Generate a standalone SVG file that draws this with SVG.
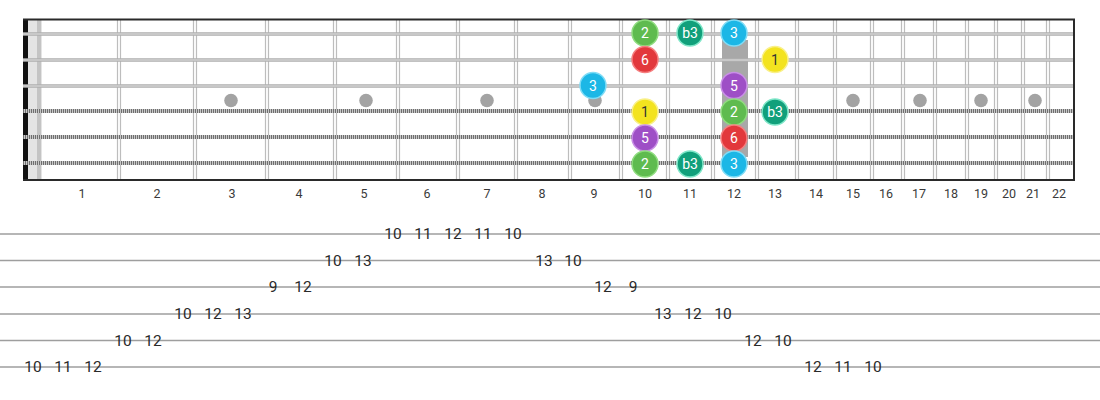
<svg xmlns="http://www.w3.org/2000/svg" width="1100" height="400" viewBox="0 0 1100 400">
<style>
.fret{stroke:#bdbdbd;stroke-width:1.2;fill:none}
.plain{stroke:#aeaeae;stroke-width:3.4;fill:none}
.plainc{stroke:#e2e2e2;stroke-width:1;fill:none}
.woundb{stroke:#c8c8c8;stroke-width:4;fill:none}
.wound{stroke:#6e6e6e;stroke-width:4;stroke-dasharray:1 1;fill:none}
.dot{fill:#a3a3a3}
.fn{font-family:Roboto,"Liberation Sans",sans-serif;font-size:12.5px;fill:#3a3a3a;text-anchor:middle}
.tl{stroke:#9e9e9e;stroke-width:1.5}
.tn{font-family:Roboto,"Liberation Sans",sans-serif;font-size:15.5px;fill:#2a2a2a;text-anchor:middle;dominant-baseline:central}
.nt{font-family:Roboto,"Liberation Sans",sans-serif;font-size:14px;fill:#fff;text-anchor:middle;dominant-baseline:central}
.dk{fill:#333}
.c2{fill:#5fbb4f;stroke:#8fdc7f;stroke-width:1.5}
.cb3{fill:#11a07b;stroke:#7fe6c8;stroke-width:1.5}
.c3{fill:#1cb7e6;stroke:#7fdcf6;stroke-width:1.5}
.c6{fill:#e2383c;stroke:#f57f80;stroke-width:1.5}
.c1{fill:#f3e31f;stroke:#f9f08a;stroke-width:1.5}
.c5{fill:#9e4fc6;stroke:#c98fe6;stroke-width:1.5}
</style>
<rect width="1100" height="400" fill="#fff"/>
<g id="fretboard">
  <rect x="28" y="20" width="14" height="160" fill="#e4e4e4"/>
  <rect x="37" y="20" width="4" height="160" fill="#c4c4c4"/>
  <g id="frets">
    <path class="fret" d="M117.5 20V180M120.5 20V180M193.5 20V180M196.5 20V180M265.5 20V180M268.5 20V180M333.5 20V180M336.5 20V180M396.5 20V180M399.5 20V180M456.5 20V180M459.5 20V180M514.5 20V180M517.5 20V180M568.5 20V180M571.5 20V180M619.5 20V180M622.5 20V180M666.5 20V180M669.5 20V180M711.5 20V180M714.5 20V180M755.5 20V180M758.5 20V180M795.5 20V180M798.5 20V180M833.5 20V180M836.5 20V180M870.5 20V180M873.5 20V180M901.5 20V180M904.5 20V180M933.5 20V180M936.5 20V180M965.5 20V180M968.5 20V180M994.5 20V180M997.5 20V180M1021.5 20V180M1024.5 20V180M1046.5 20V180M1049.5 20V180"/>
  </g>
  <g id="inlays">
    <circle class="dot" cx="231" cy="100.5" r="6.8"/>
    <circle class="dot" cx="366" cy="100.5" r="6.8"/>
    <circle class="dot" cx="487" cy="100.5" r="6.8"/>
    <circle class="dot" cx="595" cy="100.5" r="6.8"/>
    <circle class="dot" cx="853" cy="100.5" r="6.8"/>
    <circle class="dot" cx="920" cy="100.5" r="6.8"/>
    <circle class="dot" cx="981" cy="100.5" r="6.8"/>
    <circle class="dot" cx="1035" cy="100.5" r="6.8"/>
    <rect x="722" y="40" width="26" height="117" fill="#a8a8a8"/>
  </g>
  <rect x="23" y="19" width="5" height="162" fill="#111"/>
  <g id="strings">
    <path class="plain" d="M23 34H1074M23 60H1074M23 86H1074"/>
    <path class="plainc" d="M23 34H1074M23 60H1074M23 86H1074"/>
    <path class="woundb" d="M23 111H1074M23 137H1074M23 163H1074"/>
    <path class="wound" d="M23 111H1074M23 137H1074M23 163H1074"/>
  </g>
  <line x1="23" y1="19.5" x2="1075" y2="19.5" stroke="#2a2a2a" stroke-width="2"/>
  <line x1="23" y1="180" x2="1075" y2="180" stroke="#2a2a2a" stroke-width="2"/>
  <line x1="1074" y1="19" x2="1074" y2="181" stroke="#2a2a2a" stroke-width="2"/>
  <g id="fret-numbers">
    <text class="fn" x="82" y="198">1</text>
    <text class="fn" x="157" y="198">2</text>
    <text class="fn" x="232" y="198">3</text>
    <text class="fn" x="299" y="198">4</text>
    <text class="fn" x="364" y="198">5</text>
    <text class="fn" x="427" y="198">6</text>
    <text class="fn" x="487" y="198">7</text>
    <text class="fn" x="542" y="198">8</text>
    <text class="fn" x="594" y="198">9</text>
    <text class="fn" x="645" y="198">10</text>
    <text class="fn" x="690" y="198">11</text>
    <text class="fn" x="734" y="198">12</text>
    <text class="fn" x="775" y="198">13</text>
    <text class="fn" x="816" y="198">14</text>
    <text class="fn" x="853" y="198">15</text>
    <text class="fn" x="886" y="198">16</text>
    <text class="fn" x="919" y="198">17</text>
    <text class="fn" x="951" y="198">18</text>
    <text class="fn" x="981" y="198">19</text>
    <text class="fn" x="1009" y="198">20</text>
    <text class="fn" x="1033" y="198">21</text>
    <text class="fn" x="1059" y="198">22</text>
  </g>
</g>
<g id="notes">
  <g id="n1-10"><circle class="c2" cx="645" cy="33" r="13"/><text class="nt" x="645" y="33">2</text></g>
  <g id="n1-11"><circle class="cb3" cx="690" cy="33" r="13"/><text class="nt" x="690" y="33">b3</text></g>
  <g id="n1-12"><circle class="c3" cx="734" cy="33" r="13"/><text class="nt" x="734" y="33">3</text></g>
  <g id="n2-10"><circle class="c6" cx="645" cy="59.5" r="13"/><text class="nt" x="645" y="59.5">6</text></g>
  <g id="n2-13"><circle class="c1" cx="775" cy="59.5" r="13"/><text class="nt dk" x="775" y="59.5">1</text></g>
  <g id="n3-9"><circle class="c3" cx="593" cy="85.5" r="13"/><text class="nt" x="593" y="85.5">3</text></g>
  <g id="n3-12"><circle class="c5" cx="734" cy="85.5" r="13"/><text class="nt" x="734" y="85.5">5</text></g>
  <g id="n4-10"><circle class="c1" cx="645" cy="112" r="13"/><text class="nt dk" x="645" y="112">1</text></g>
  <g id="n4-12"><circle class="c2" cx="734" cy="112" r="13"/><text class="nt" x="734" y="112">2</text></g>
  <g id="n4-13"><circle class="cb3" cx="775" cy="112" r="13"/><text class="nt" x="775" y="112">b3</text></g>
  <g id="n5-10"><circle class="c5" cx="645" cy="138" r="13"/><text class="nt" x="645" y="138">5</text></g>
  <g id="n5-12"><circle class="c6" cx="734" cy="138" r="13"/><text class="nt" x="734" y="138">6</text></g>
  <g id="n6-10"><circle class="c2" cx="645" cy="164" r="13"/><text class="nt" x="645" y="164">2</text></g>
  <g id="n6-11"><circle class="cb3" cx="690" cy="164" r="13"/><text class="nt" x="690" y="164">b3</text></g>
  <g id="n6-12"><circle class="c3" cx="734" cy="164" r="13"/><text class="nt" x="734" y="164">3</text></g>
</g>
<g id="tab">
  <g id="tab-lines">
    <line class="tl" x1="0" y1="234" x2="1100" y2="234"/>
    <line class="tl" x1="0" y1="260.5" x2="1100" y2="260.5"/>
    <line class="tl" x1="0" y1="287" x2="1100" y2="287"/>
    <line class="tl" x1="0" y1="314" x2="1100" y2="314"/>
    <line class="tl" x1="0" y1="340.5" x2="1100" y2="340.5"/>
    <line class="tl" x1="0" y1="367" x2="1100" y2="367"/>
  </g>
  <g id="tab-numbers">
    <text class="tn" x="393" y="234">10</text><text class="tn" x="423" y="234">11</text><text class="tn" x="453" y="234">12</text><text class="tn" x="483" y="234">11</text><text class="tn" x="513" y="234">10</text>
    <text class="tn" x="333" y="260.5">10</text><text class="tn" x="363" y="260.5">13</text><text class="tn" x="544" y="260.5">13</text><text class="tn" x="573" y="260.5">10</text>
    <text class="tn" x="273" y="287">9</text><text class="tn" x="303" y="287">12</text><text class="tn" x="603" y="287">12</text><text class="tn" x="633" y="287">9</text>
    <text class="tn" x="183" y="314">10</text><text class="tn" x="213" y="314">12</text><text class="tn" x="243" y="314">13</text><text class="tn" x="663" y="314">13</text><text class="tn" x="693" y="314">12</text><text class="tn" x="723" y="314">10</text>
    <text class="tn" x="123" y="340.5">10</text><text class="tn" x="153" y="340.5">12</text><text class="tn" x="753" y="340.5">12</text><text class="tn" x="783" y="340.5">10</text>
    <text class="tn" x="33" y="367">10</text><text class="tn" x="63" y="367">11</text><text class="tn" x="93" y="367">12</text><text class="tn" x="813" y="367">12</text><text class="tn" x="843" y="367">11</text><text class="tn" x="873" y="367">10</text>
  </g>
</g>
</svg>
